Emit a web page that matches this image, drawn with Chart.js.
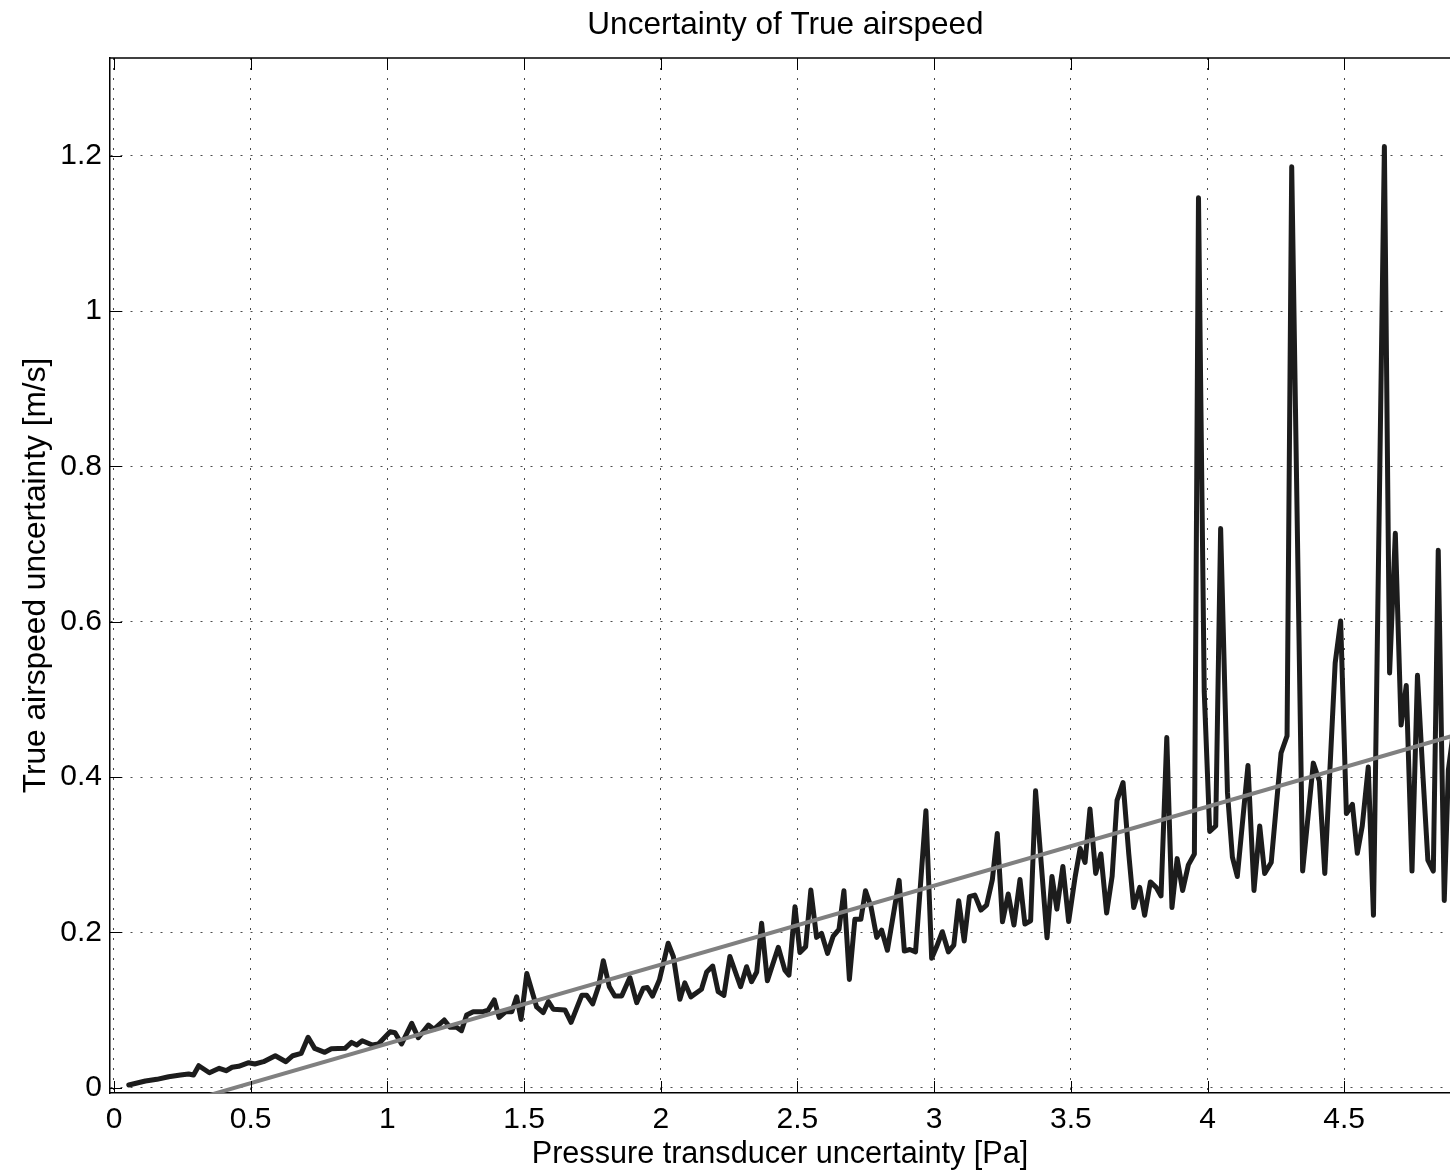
<!DOCTYPE html>
<html>
<head>
<meta charset="utf-8">
<script src="https://cdn.jsdelivr.net/npm/chart.js@4.4.1/dist/chart.umd.min.js"></script>
<style>
html,body{margin:0;padding:0;background:#fff;}
#wrap{width:1450px;height:1173px;}
</style>
</head>
<body>
<div id="wrap"><canvas id="c" width="1450" height="1173"></canvas></div>
<script>
// ---- data ----
const xValues = [
0.054,0.115,0.157,0.200,0.243,0.273,0.291,0.310,0.349,0.385,0.410,0.432,0.456,0.493,0.515,0.547,0.590,0.629,0.654,0.685,
0.710,0.734,0.771,0.795,0.845,0.869,0.888,0.908,0.945,0.967,1.010,1.028,1.052,1.089,1.113,1.150,1.170,1.208,1.229,1.253,
1.271,1.290,1.314,1.351,1.369,1.391,1.409,1.433,1.455,1.473,1.489,1.510,1.546,1.570,1.589,1.607,1.650,1.672,1.711,1.729,
1.751,1.772,1.790,1.812,1.832,1.857,1.887,1.912,1.936,1.951,1.970,1.995,2.027,2.046,2.070,2.088,2.110,2.149,2.168,2.190,
2.210,2.231,2.253,2.292,2.314,2.332,2.351,2.369,2.390,2.430,2.454,2.469,2.491,2.509,2.530,2.549,2.570,2.588,2.610,2.631,
2.652,2.670,2.690,2.710,2.732,2.749,2.769,2.790,2.808,2.829,2.872,2.891,2.911,2.932,2.970,2.991,3.009,3.030,3.052,3.072,
3.090,3.110,3.129,3.149,3.171,3.192,3.213,3.231,3.250,3.271,3.292,3.314,3.332,3.353,3.371,3.413,3.431,3.449,3.471,3.492,
3.516,3.534,3.552,3.570,3.591,3.610,3.631,3.651,3.669,3.691,3.712,3.730,3.752,3.770,3.791,3.812,3.830,3.851,3.870,3.889,
3.909,3.930,3.952,3.967,3.988,4.008,4.030,4.048,4.073,4.091,4.109,4.148,4.170,4.191,4.209,4.233,4.269,4.291,4.308,4.348,
4.387,4.409,4.429,4.467,4.487,4.508,4.530,4.548,4.566,4.588,4.607,4.647,4.666,4.687,4.708,4.727,4.748,4.768,4.788,4.806,
4.826,4.844,4.866,4.881,4.900
];
const uncertaintyValues = [
0.0035,0.0086,0.0108,0.0142,0.0163,0.0176,0.0163,0.0283,0.0193,0.0250,0.0219,0.0263,0.0276,0.0322,0.0305,0.0335,0.0412,0.0335,0.0412,0.0443,
0.0649,0.0507,0.0456,0.0502,0.0507,0.0584,0.0550,0.0605,0.0550,0.0563,0.0721,0.0708,0.0563,0.0829,0.0644,0.0807,0.0752,0.0872,0.0778,0.0778,
0.0734,0.0936,0.0979,0.0979,0.1000,0.1130,0.0906,0.0979,0.0979,0.1170,0.0880,0.1470,0.1040,0.0966,0.1110,0.1010,0.1000,0.0842,0.1190,0.1190,
0.1080,0.1300,0.1635,0.1300,0.1180,0.1180,0.1420,0.1095,0.1280,0.1290,0.1180,0.1387,0.1860,0.1690,0.1138,0.1350,0.1170,0.1267,0.1490,0.1567,
0.1236,0.1190,0.1690,0.1300,0.1558,0.1365,0.1490,0.2117,0.1378,0.1808,0.1515,0.1450,0.2330,0.1740,0.1815,0.2545,0.1936,0.1988,0.1730,0.1953,
0.2040,0.2537,0.1395,0.2168,0.2168,0.2537,0.2330,0.1936,0.2030,0.1770,0.2670,0.1760,0.1780,0.1750,0.3566,0.1666,0.1815,0.2009,0.1750,0.1837,
0.2408,0.1889,0.2460,0.2480,0.2288,0.2352,0.2680,0.3275,0.2137,0.2494,0.2095,0.2680,0.2108,0.2150,0.3824,0.1930,0.2720,0.2300,0.2850,0.2140,
0.2720,0.3080,0.2900,0.3590,0.2760,0.3010,0.2250,0.2720,0.3700,0.3930,0.3010,0.2320,0.2580,0.2220,0.2650,0.2580,0.2470,0.4510,0.2320,0.2950,
0.2540,0.2870,0.3010,1.1460,0.5100,0.3300,0.3370,0.7200,0.3800,0.2970,0.2720,0.4150,0.2540,0.3370,0.2760,0.2900,0.4310,0.4530,1.1860,0.2790,
0.4180,0.3950,0.2760,0.5470,0.6010,0.3530,0.3650,0.3020,0.3370,0.4130,0.2220,1.2120,0.5340,0.7140,0.4670,0.5180,0.2790,0.5310,0.4020,0.2930,
0.2790,0.6920,0.2410,0.4090,0.4600
];
const fitX = [0.0, 4.9];
const fitY = [-0.0450, 0.4534];
const xTickValues = [0, 0.5, 1, 1.5, 2, 2.5, 3, 3.5, 4, 4.5];
const yTickValues = [0, 0.2, 0.4, 0.6, 0.8, 1, 1.2];
const chartTitle = 'Uncertainty of True airspeed';
const xAxisTitle = 'Pressure transducer uncertainty [Pa]';
const yAxisTitle = 'True airspeed uncertainty [m/s]';

// ---- build ----
const FONT = "'Liberation Sans', Arial, Helvetica, sans-serif";
const measured = xValues.map((x, i) => ({x: x, y: uncertaintyValues[i]}));
const fitted = fitX.map((x, i) => ({x: x, y: fitY[i]}));

const frameAndTicks = {
  id: 'frameAndTicks',
  afterDraw(chart) {
    const ctx = chart.ctx, a = chart.chartArea;
    const xs = chart.scales.x, ys = chart.scales.y;
    const L = 12;
    ctx.save();
    ctx.strokeStyle = '#000';
    ctx.lineWidth = 1;
    ctx.beginPath();
    xTickValues.forEach(v => {
      const p = Math.round(xs.getPixelForValue(v)) + 0.5;
      ctx.moveTo(p, a.bottom); ctx.lineTo(p, a.bottom - L);
      ctx.moveTo(p, a.top); ctx.lineTo(p, a.top + L);
    });
    yTickValues.forEach(v => {
      const p = Math.round(ys.getPixelForValue(v)) + 0.5;
      ctx.moveTo(a.left, p); ctx.lineTo(a.left + L, p);
    });
    ctx.stroke();
    ctx.lineWidth = 1.5;
    ctx.beginPath();
    ctx.moveTo(a.left, a.top); ctx.lineTo(a.right, a.top);
    ctx.stroke();
    // chart title, centred over the (cropped) MATLAB axes box
    ctx.fillStyle = '#000';
    ctx.font = '31.5px ' + FONT;
    ctx.textAlign = 'center';
    ctx.textBaseline = 'middle';
    ctx.fillText(chartTitle, 785.5, 25);
    ctx.restore();
  }
};

new Chart(document.getElementById('c'), {
  type: 'line',
  data: {
    datasets: [
      {
        label: 'fit',
        data: fitted,
        borderColor: '#808080',
        borderWidth: 4,
        pointRadius: 0,
        fill: false,
        tension: 0,
        order: 0
      },
      {
        label: 'uncertainty',
        data: measured,
        borderColor: '#1c1c1c',
        borderWidth: 5,
        borderJoinStyle: 'round',
        borderCapStyle: 'round',
        pointRadius: 0,
        fill: false,
        tension: 0,
        order: 1
      }
    ]
  },
  options: {
    responsive: false,
    animation: false,
    devicePixelRatio: 1,
    layout: {padding: {left: 0, right: 0, top: 58, bottom: 0}},
    plugins: {
      legend: {display: false},
      tooltip: {enabled: false},
      title: {display: false}
    },
    scales: {
      x: {
        type: 'linear',
        min: -0.0146,
        max: 4.887,
        afterBuildTicks(s) { s.ticks = xTickValues.map(v => ({value: v})); },
        afterFit(s) { s.height = 80; },
        grid: {color: 'rgba(0,0,0,0.7)', lineWidth: 1, drawTicks: false},
        border: {display: true, color: '#000', width: 1.5, dash: [2, 8]},
        ticks: {
          color: '#000', padding: 9, maxRotation: 0, includeBounds: false,
          font: {family: FONT, size: 30},
          callback: v => String(v)
        },
        title: {
          display: true, text: xAxisTitle, color: '#000',
          font: {family: FONT, size: 30.6},
          padding: {top: 0, bottom: 0}
        }
      },
      y: {
        type: 'linear',
        min: -0.0068,
        max: 1.326,
        afterBuildTicks(s) { s.ticks = yTickValues.map(v => ({value: v})); },
        afterFit(s) { s.width = 110; },
        grid: {color: 'rgba(0,0,0,0.7)', lineWidth: 1, drawTicks: false},
        border: {display: true, color: '#000', width: 1.5, dash: [2, 8]},
        ticks: {
          color: '#000', padding: 8, includeBounds: false,
          font: {family: FONT, size: 30},
          callback: v => String(v)
        },
        title: {
          display: true, text: yAxisTitle, color: '#000',
          font: {family: FONT, size: 31.7},
          padding: {top: 17, bottom: 0}
        }
      }
    }
  },
  plugins: [frameAndTicks]
});
</script>
</body>
</html>
